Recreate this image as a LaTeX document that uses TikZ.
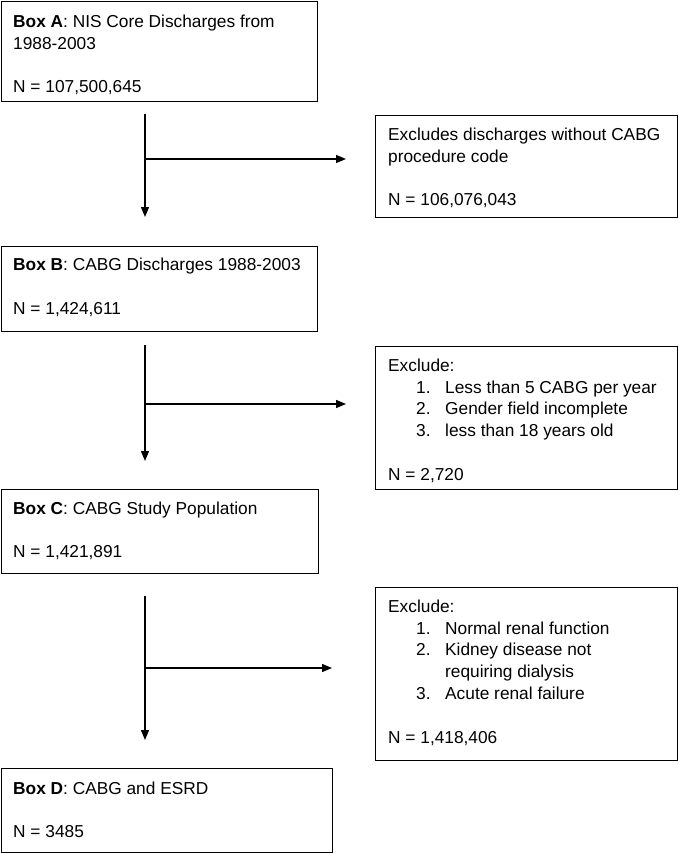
\documentclass[tikz,border=0pt]{standalone}
\usepackage{fontspec}
\setmainfont{Liberation Sans}
\usetikzlibrary{arrows.meta}

\tikzset{
    box/.style={draw, line width=1.4pt, anchor=north west, inner sep=0pt},
    boxtext/.style={anchor=north west, align=left, inner sep=0pt, font=\fontsize{17.3}{21.8}\selectfont},
    flow/.style={line width=1.3pt, -{Triangle[length=10pt, width=8pt]}},
}
\newcommand{\listnum}[1]{\hspace*{28pt}\makebox[29pt][l]{#1}}

\begin{document}
\begin{tikzpicture}[x=1pt, y=-1pt]
    \useasboundingbox (0,0) rectangle (678,853);

    % Box A
    \node[box, minimum width=316pt, minimum height=100pt] (boxA) at (1,1) {};
    \node[boxtext] (txtA) at (13,14.5) {\textbf{Box A}: NIS Core Discharges from\\ 1988-2003\\[21.8pt] N = 107,500,645};

    % Exclusion 1
    \node[box, minimum width=302pt, minimum height=102pt] (exA) at (375,115) {};
    \node[boxtext] (txtexA) at (388,127.5) {Excludes discharges without CABG\\ procedure code\\[21.8pt] N = 106,076,043};

    % Box B
    \node[box, minimum width=316pt, minimum height=85pt] (boxB) at (1,246) {};
    \node[boxtext] (txtB) at (13,258) {\textbf{Box B}: CABG Discharges 1988-2003\\[21.8pt] N = 1,424,611};

    % Exclusion 2
    \node[box, minimum width=302pt, minimum height=143pt] (exB) at (375,346) {};
    \node[boxtext] (txtexB) at (388,358.5) {Exclude:\\
        \listnum{1.}Less than 5 CABG per year\\
        \listnum{2.}Gender field incomplete\\
        \listnum{3.}less than 18 years old\\[21.8pt]
        N = 2,720};

    % Box C
    \node[box, minimum width=317pt, minimum height=84pt] (boxC) at (1,489) {};
    \node[boxtext] (txtC) at (13,501.5) {\textbf{Box C}: CABG Study Population\\[21.8pt] N = 1,421,891};

    % Exclusion 3
    \node[box, minimum width=302pt, minimum height=173pt] (exC) at (375,587) {};
    \node[boxtext] (txtexC) at (388,599.5) {Exclude:\\
        \listnum{1.}Normal renal function\\
        \listnum{2.}Kidney disease not\\
        \hspace*{57pt}requiring dialysis\\
        \listnum{3.}Acute renal failure\\[21.8pt]
        N = 1,418,406};

    % Box D
    \node[box, minimum width=331pt, minimum height=84pt] (boxD) at (1,768) {};
    \node[boxtext] (txtD) at (13,781.5) {\textbf{Box D}: CABG and ESRD\\[21.8pt] N = 3485};

    % Arrow 1
    \coordinate (a1) at (145,114);
    \coordinate (b1) at (145,217);
    \coordinate (s1) at (145,159);
    \coordinate (e1) at (346,159);
    \draw[flow] (a1) -- (b1);
    \draw[flow] (s1) -- (e1);

    % Arrow 2
    \coordinate (a2) at (145,345);
    \coordinate (b2) at (145,461);
    \coordinate (s2) at (145,404);
    \coordinate (e2) at (346,404);
    \draw[flow] (a2) -- (b2);
    \draw[flow] (s2) -- (e2);

    % Arrow 3
    \coordinate (a3) at (145,596);
    \coordinate (b3) at (145,740);
    \coordinate (s3) at (145,668);
    \coordinate (e3) at (332,668);
    \draw[flow] (a3) -- (b3);
    \draw[flow] (s3) -- (e3);
\end{tikzpicture}
\end{document}
